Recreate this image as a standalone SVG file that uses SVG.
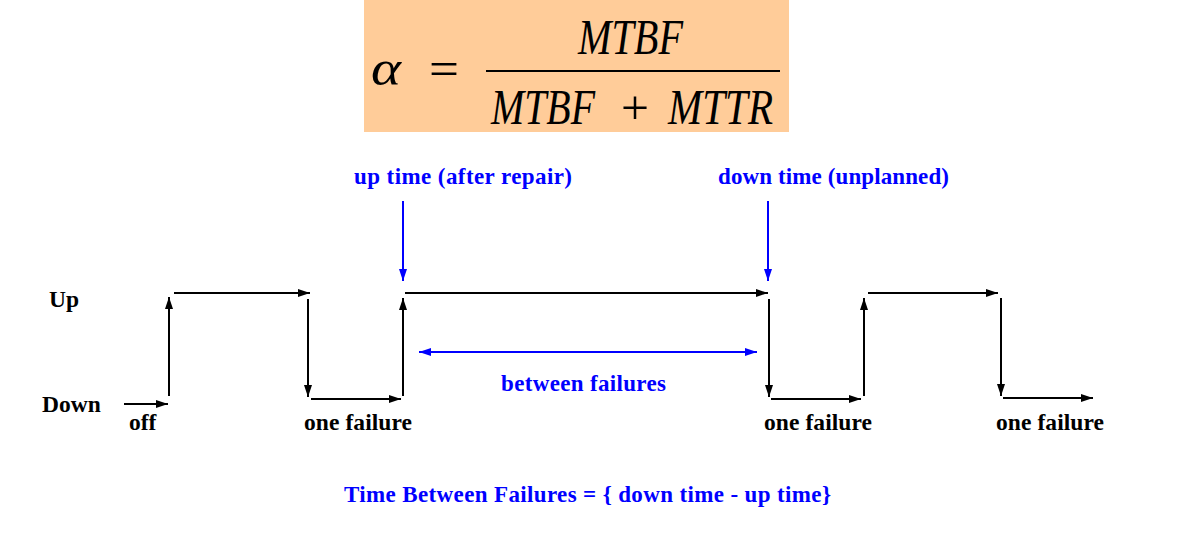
<svg xmlns="http://www.w3.org/2000/svg" width="1177" height="547" viewBox="0 0 1177 547">
<defs>
<marker id="ab" viewBox="0 0 12 8" refX="12" refY="4" markerWidth="12" markerHeight="8" markerUnits="userSpaceOnUse" orient="auto"><path d="M0,0 L12,4 L0,8 Z" fill="#000"/></marker>
<marker id="abl" viewBox="0 0 12 8" refX="12" refY="4" markerWidth="12" markerHeight="8" markerUnits="userSpaceOnUse" orient="auto-start-reverse"><path d="M0,0 L12,4 L0,8 Z" fill="#0000FF"/></marker>
<style>
.k{stroke:#000;stroke-width:2;fill:none;marker-end:url(#ab)}
.b{stroke:#0000FF;stroke-width:2;fill:none;marker-end:url(#abl)}
.lb{font-family:"Liberation Serif",serif;font-weight:bold;font-size:23.5px;fill:#000}
.bl{font-family:"Liberation Serif",serif;font-weight:bold;font-size:23px;fill:#0000FF}
.f{font-family:"Liberation Serif",serif;font-style:italic;font-size:50px;fill:#000}
</style>
</defs>
<g id="formula">
<rect x="364" y="0" width="425" height="132" fill="#FFCC99"/>
<text class="f" x="371" y="85" textLength="30" lengthAdjust="spacingAndGlyphs">α</text>
<text x="429" y="85" font-family="Liberation Serif,serif" font-size="48" textLength="30" lengthAdjust="spacingAndGlyphs">=</text>
<line x1="486" y1="71" x2="780" y2="71" stroke="#000" stroke-width="2"/>
<text class="f" x="578" y="54" textLength="105" lengthAdjust="spacingAndGlyphs">MTBF</text>
<text class="f" x="491" y="124" textLength="104" lengthAdjust="spacingAndGlyphs">MTBF</text>
<text x="621" y="124" font-family="Liberation Serif,serif" font-size="48" textLength="28" lengthAdjust="spacingAndGlyphs">+</text>
<text class="f" x="668" y="124" textLength="105" lengthAdjust="spacingAndGlyphs">MTTR</text>
</g>
<g id="connectors">
<line class="k" x1="124" y1="404" x2="168" y2="404"/>
<line class="k" x1="169" y1="396" x2="169" y2="297"/>
<line class="k" x1="174" y1="293" x2="310" y2="293"/>
<line class="k" x1="308" y1="299" x2="308" y2="397"/>
<line class="k" x1="311" y1="399" x2="401" y2="399"/>
<line class="k" x1="403" y1="396" x2="403" y2="298"/>
<line class="k" x1="405" y1="293" x2="768" y2="293"/>
<line class="k" x1="769" y1="299" x2="769" y2="397"/>
<line class="k" x1="771" y1="399" x2="861" y2="399"/>
<line class="k" x1="864" y1="396" x2="864" y2="298"/>
<line class="k" x1="868" y1="293" x2="998" y2="293"/>
<line class="k" x1="1001" y1="298" x2="1001" y2="396"/>
<line class="k" x1="1003" y1="398" x2="1093" y2="398"/>
<line class="b" x1="403" y1="201" x2="403" y2="281"/>
<line class="b" x1="768" y1="201" x2="768" y2="281"/>
<line class="b" x1="419" y1="352" x2="757" y2="352" marker-start="url(#abl)"/>
</g>
<g id="labels">
<text class="lb" x="49" y="307">Up</text>
<text class="lb" x="42" y="412">Down</text>
<text class="lb" x="129" y="430">off</text>
<text class="lb" x="304" y="430" textLength="108">one failure</text>
<text class="lb" x="764" y="430" textLength="108">one failure</text>
<text class="lb" x="996" y="430" textLength="108">one failure</text>
<text class="bl" x="354" y="184" textLength="218">up time (after repair)</text>
<text class="bl" x="718" y="184" textLength="231">down time (unplanned)</text>
<text class="bl" x="501" y="391" textLength="165">between failures</text>
<text class="bl" x="344" y="502" textLength="487">Time Between Failures = { down time - up time}</text>
</g>
</svg>
